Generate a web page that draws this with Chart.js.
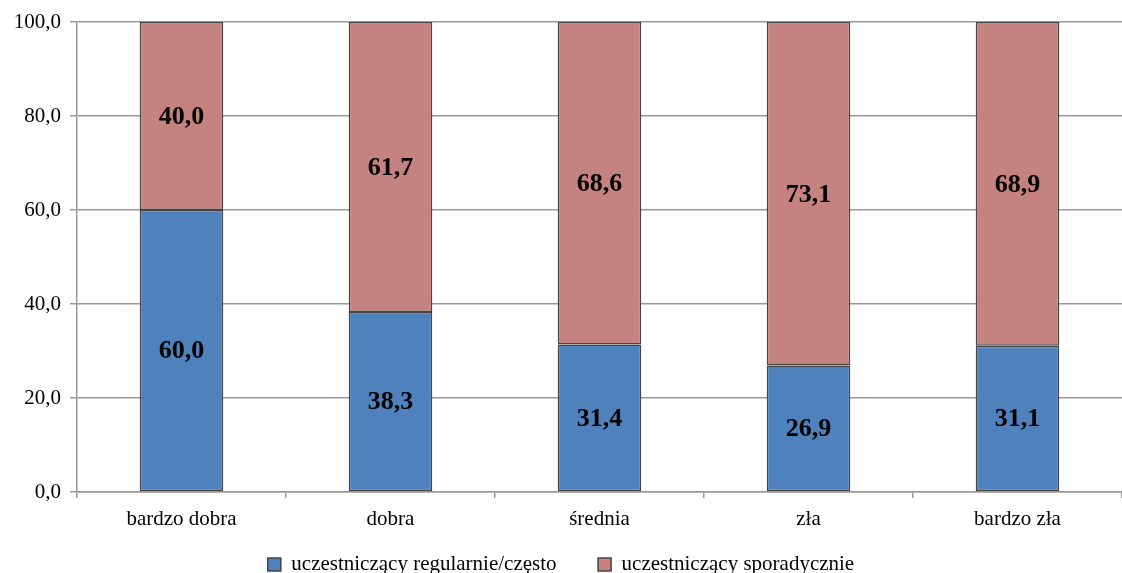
<!DOCTYPE html>
<html>
<head>
<meta charset="utf-8">
<script src="https://cdn.jsdelivr.net/npm/chart.js@4"></script>
<style>
  html, body { margin: 0; padding: 0; background: #fff; }
  #wrap { width: 1122px; height: 573px; }
</style>
</head>
<body>
<div id="wrap"><canvas id="chart" width="1122" height="573"></canvas></div>
<script>
// categories and series
let categories = ['bardzo dobra', 'dobra', 'średnia', 'zła', 'bardzo zła'];
let regularnie = [60.0, 38.3, 31.4, 26.9, 31.1];
let sporadycznie = [40.0, 61.7, 68.6, 73.1, 68.9];
let yTicks = [0, 20, 40, 60, 80, 100];

let serif = '"Liberation Serif", "Times New Roman", serif';

function fmt(v)
{
    return Number(v).toFixed(1).replace('.', ',');
}

// VALUE LABELS
let barLabels = {
    id: 'barLabels',
    afterDatasetsDraw: function (chart)
    {
        let ctx = chart.ctx;
        ctx.save();
        ctx.font = 'bold 26px ' + serif;
        ctx.fillStyle = '#000';
        ctx.textAlign = 'center';
        ctx.textBaseline = 'middle';
        chart.data.datasets.forEach(function (ds, i)
        {
            chart.getDatasetMeta(i).data.forEach(function (bar, j)
            {
                let mid = (bar.y + bar.base) / 2;
                ctx.fillText(fmt(ds.data[j]), bar.x, mid + 1);
            });
        });
        ctx.restore();
    }
};

let ctx = document.getElementById('chart').getContext('2d');
new Chart(ctx,
{
    type: 'bar',
    data: {
        labels: categories,
        datasets: [
            {
                label: 'uczestniczący regularnie/często',
                data: regularnie,
                backgroundColor: '#4F81BD',
                borderColor: '#444',
                borderWidth: 1.5,
                borderSkipped: false,
                categoryPercentage: 1,
                barPercentage: 0.4
            },
            {
                label: 'uczestniczący sporadycznie',
                data: sporadycznie,
                backgroundColor: '#C48280',
                borderColor: '#444',
                borderWidth: 1.5,
                borderSkipped: false,
                categoryPercentage: 1,
                barPercentage: 0.4
            }
        ]
    },
    options: {
        responsive: false,
        animation: false,
        layout: { padding: { top: 22, right: 0, left: 0, bottom: -12 } },
        plugins: {
            tooltip: { enabled: false },
            legend: {
                position: 'bottom',
                labels: {
                    boxWidth: 13,
                    boxHeight: 13,
                    padding: 10,
                    color: '#000',
                    font: { family: serif, size: 21 },
                    generateLabels: function (chart)
                    {
                        let items = Chart.defaults.plugins.legend.labels.generateLabels(chart);
                        // wider gap after the first entry
                        items[0].text = items[0].text + '      ';
                        return items;
                    }
                }
            }
        },
        scales: {
            x: {
                stacked: true,
                offset: true,
                grid: {
                    offset: true,
                    drawOnChartArea: false,
                    drawTicks: true,
                    tickLength: 6,
                    color: '#999',
                    lineWidth: 1.5
                },
                border: { color: '#999', width: 1.5 },
                ticks: {
                    color: '#000',
                    padding: 9,
                    font: { family: serif, size: 21 }
                },
                afterFit: function (scale) { scale.height = 52; }
            },
            y: {
                stacked: true,
                min: 0,
                max: 100,
                afterBuildTicks: function (scale)
                {
                    scale.ticks = yTicks.map(function (v) { return { value: v }; });
                },
                grid: {
                    color: '#999',
                    lineWidth: 1.5,
                    tickLength: 7
                },
                border: { color: '#999', width: 1.5 },
                ticks: {
                    color: '#000',
                    padding: 9,
                    font: { family: serif, size: 21 },
                    callback: function (v) { return fmt(v); }
                },
                afterFit: function (scale) { scale.width = 77; }
            }
        }
    },
    plugins: [barLabels]
});
</script>
</body>
</html>
